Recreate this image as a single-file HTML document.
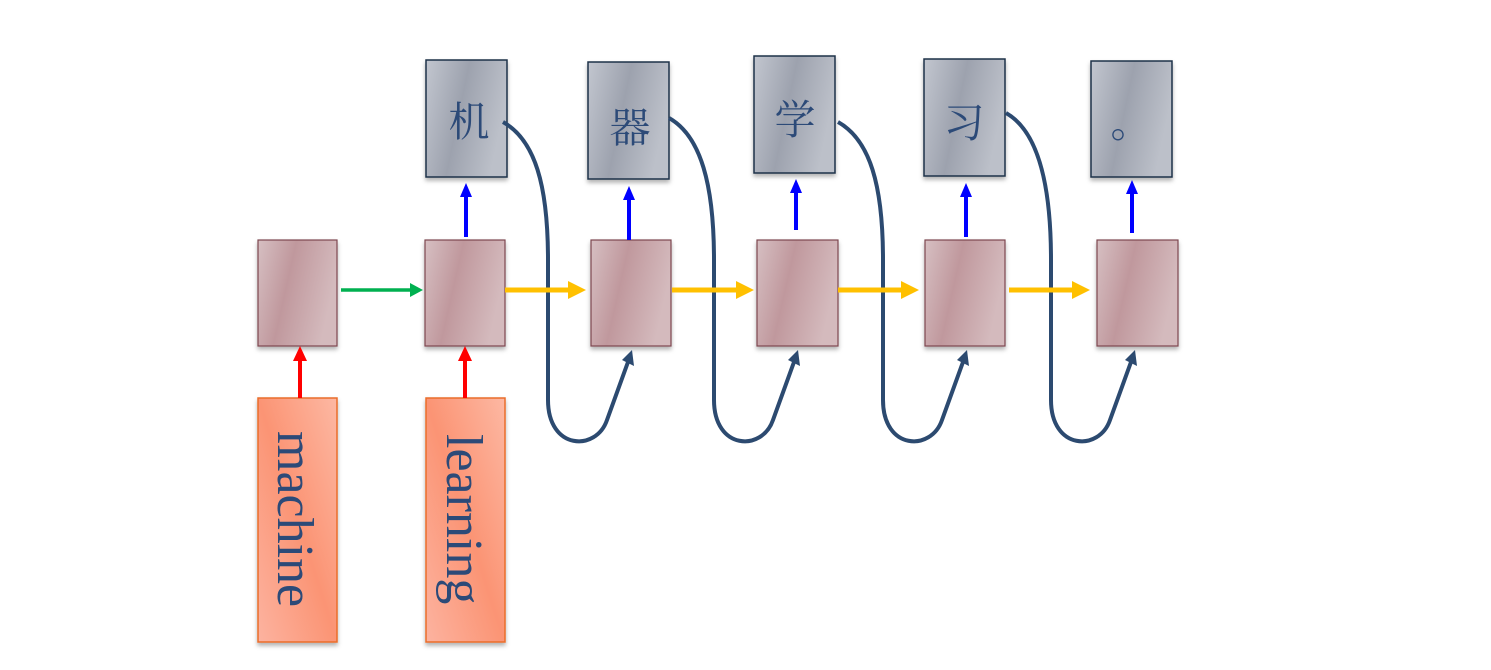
<!DOCTYPE html>
<html><head><meta charset="utf-8"><style>html,body{margin:0;padding:0;background:#fff}svg{display:block}</style></head>
<body>
<svg width="1491" height="670" viewBox="0 0 1491 670" xmlns="http://www.w3.org/2000/svg">
<defs>
<linearGradient id="rg" x1="0" y1="0" x2="1" y2="0.3">
<stop offset="0" stop-color="#d6bfc2"/><stop offset="0.45" stop-color="#c0989d"/><stop offset="1" stop-color="#d4babd"/></linearGradient>
<linearGradient id="gg" x1="0" y1="0" x2="1" y2="0.3">
<stop offset="0" stop-color="#c2c6cf"/><stop offset="0.5" stop-color="#9da2ae"/><stop offset="1" stop-color="#bcc0c9"/></linearGradient>
<linearGradient id="og" x1="1" y1="0" x2="0" y2="1">
<stop offset="0" stop-color="#fdb8a3"/><stop offset="0.5" stop-color="#fb9474"/><stop offset="1" stop-color="#fcb3a0"/></linearGradient>
<filter id="sh" x="-10%" y="-10%" width="130%" height="130%"><feDropShadow dx="0" dy="3" stdDeviation="2" flood-color="#000" flood-opacity="0.3"/></filter>
</defs>
<g filter="url(#sh)">
<rect x="258" y="240" width="79" height="106" fill="url(#rg)" stroke="#7d4650" stroke-width="1.2"/>
<rect x="425" y="240" width="80" height="106" fill="url(#rg)" stroke="#7d4650" stroke-width="1.2"/>
<rect x="591" y="240" width="80" height="106" fill="url(#rg)" stroke="#7d4650" stroke-width="1.2"/>
<rect x="757" y="240" width="81" height="106" fill="url(#rg)" stroke="#7d4650" stroke-width="1.2"/>
<rect x="925" y="240" width="80" height="106" fill="url(#rg)" stroke="#7d4650" stroke-width="1.2"/>
<rect x="1097" y="240" width="81" height="106" fill="url(#rg)" stroke="#7d4650" stroke-width="1.2"/>
<rect x="426" y="60" width="81" height="117" fill="url(#gg)" stroke="#1f3049" stroke-width="1.5"/>
<rect x="588" y="62" width="81" height="117" fill="url(#gg)" stroke="#1f3049" stroke-width="1.5"/>
<rect x="754" y="56" width="81" height="117" fill="url(#gg)" stroke="#1f3049" stroke-width="1.5"/>
<rect x="924" y="59" width="81" height="117" fill="url(#gg)" stroke="#1f3049" stroke-width="1.5"/>
<rect x="1091" y="61" width="81" height="116" fill="url(#gg)" stroke="#1f3049" stroke-width="1.5"/>
<rect x="258" y="398" width="79" height="244" fill="url(#og)" stroke="#e96d2c" stroke-width="1.5"/>
<rect x="426" y="398" width="79" height="244" fill="url(#og)" stroke="#e96d2c" stroke-width="1.5"/>
</g>
<g font-family="'Noto Serif CJK SC','Noto Sans CJK SC',serif" font-size="41" fill="#2c4a78" text-anchor="middle">
<text x="469" y="136">机</text>
<text x="630" y="142">器</text>
<text x="795" y="134">学</text>
<text x="964" y="137">习</text>
<text x="1131" y="137">。</text>
</g>
<g font-family="'Liberation Serif',serif" font-size="52" fill="#2c4a78">
<text transform="translate(278,431) rotate(90)">machine</text>
<text transform="translate(447,434) rotate(90)">learning</text>
</g>
<g stroke="#ff0000" stroke-width="4"><line x1="300" y1="398" x2="300" y2="358"/><line x1="465" y1="398" x2="465" y2="358"/></g>
<g fill="#ff0000"><path d="M293,361 L300,346 L307,361z"/><path d="M458,361 L465,346 L472,361z"/></g>
<g stroke="#0000ff" stroke-width="4"><line x1="466" y1="237" x2="466" y2="194"/><line x1="629" y1="240" x2="629" y2="197"/><line x1="796" y1="230" x2="796" y2="190"/><line x1="966" y1="237" x2="966" y2="194"/><line x1="1132" y1="233" x2="1132" y2="191"/></g>
<g fill="#0000ff"><path d="M460,197 L466,183 L472,197z"/><path d="M623,200 L629,186 L635,200z"/><path d="M790,193 L796,179 L802,193z"/><path d="M960,197 L966,183 L972,197z"/><path d="M1126,194 L1132,180 L1138,194z"/></g>
<line x1="341" y1="290" x2="411" y2="290" stroke="#00b050" stroke-width="3.5"/>
<path d="M410,283 L423,290 L410,297z" fill="#00b050"/>
<g fill="none" stroke="#2c4a70" stroke-width="4">
<path d="M503,122 C535,140 548,185 548,260 L548,400 C548,450 596,452 607,420 L628,362"/>
<path d="M669,118 C701,136 714,185 714,260 L714,400 C714,450 762,452 773,420 L794,362"/>
<path d="M838,122 C870,140 883,185 883,260 L883,400 C883,450 931,452 942,420 L963,362"/>
<path d="M1006,113 C1038,131 1051,185 1051,260 L1051,400 C1051,450 1099,452 1110,420 L1131,362"/>
</g>
<g fill="#2c4a70"><path d="M622,360 L632,350 L634,366z"/><path d="M788,360 L798,350 L800,366z"/><path d="M957,360 L967,350 L969,366z"/><path d="M1125,360 L1135,350 L1137,366z"/></g>
<g stroke="#ffc000" stroke-width="5"><line x1="505" y1="290" x2="572" y2="290"/><line x1="672" y1="290" x2="740" y2="290"/><line x1="838" y1="290" x2="905" y2="290"/><line x1="1009" y1="290" x2="1076" y2="290"/></g>
<g fill="#ffc000"><path d="M568,281 L586,290 L568,299z"/><path d="M736,281 L754,290 L736,299z"/><path d="M901,281 L919,290 L901,299z"/><path d="M1072,281 L1090,290 L1072,299z"/></g>
</svg>
</body></html>
